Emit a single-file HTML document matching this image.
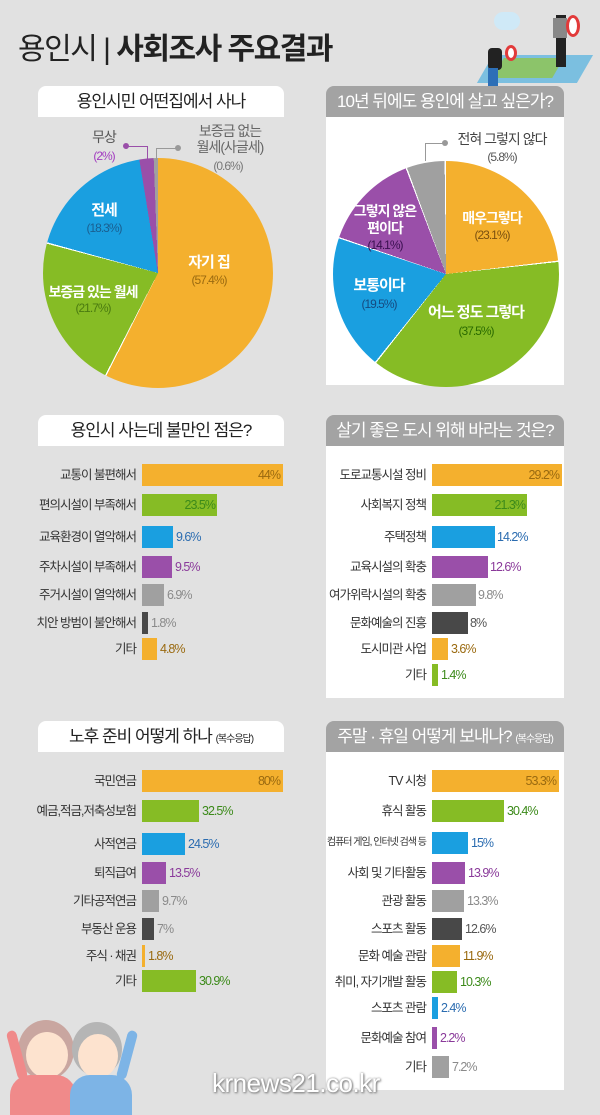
<!DOCTYPE html>
<html><head><meta charset="utf-8"><style>
*{margin:0;padding:0;box-sizing:border-box}
body{width:600px;height:1106px;background:#e1e1e1;position:relative;overflow:hidden;font-family:"Liberation Sans","Noto Sans CJK KR",sans-serif;color:#333}
div,span{position:absolute}
.hd{height:31px;font-size:17px;line-height:31px;text-align:center;letter-spacing:-1px;white-space:nowrap}
.hw{left:38px;width:246px;background:#fff;color:#222;border-radius:8px 8px 0 0}
.hg{left:326px;width:238px;background:#a3a3a3;color:#fff;border-radius:8px 8px 0 0}
.body{left:326px;width:238px;background:#fff}
.l{width:132px;text-align:right;font-size:12.5px;line-height:22px;letter-spacing:-1px;color:#333;white-space:nowrap}
.b{height:22px}
.p{font-size:12.5px;line-height:22px;letter-spacing:-1px;white-space:nowrap}
.o{background:#f4b02e}.g{background:#86bc25}.bl{background:#1a9fe0}.pu{background:#9a4fa9}.gr{background:#a0a0a0}.dk{background:#484848}
.to{color:#9a6a10}.tg{color:#3c8a1a}.tb{color:#2b6cb0}.tp{color:#8a3a9a}.tgr{color:#8a8a8a}.tdk{color:#555}
.pl{font-size:13px;text-align:center;white-space:nowrap;letter-spacing:-1px;line-height:16px}
.pw{color:#fff;font-weight:bold}
</style></head><body>

<div style="left:18px;top:24px;font-size:30px;letter-spacing:-1.5px;color:#222;white-space:nowrap">용인시<span style="position:static;font-weight:300"> | </span><b>사회조사 주요결과</b></div>

<!-- illustration top right -->
<div style="left:494px;top:12px;width:26px;height:18px;background:#cfe9f7;border-radius:10px"></div>
<div style="left:485px;top:55px;width:100px;height:28px;background:#7bbfe0;transform:skewX(-30deg)"></div>
<div style="left:498px;top:58px;width:60px;height:20px;background:#8cc46a;transform:skewX(-30deg)"></div>
<div style="left:488px;top:48px;width:14px;height:22px;background:#222;border-radius:4px"></div>
<div style="left:488px;top:68px;width:10px;height:18px;background:#2d6fb7"></div>
<div style="left:505px;top:45px;width:12px;height:16px;border:3px solid #e23a3a;border-radius:50%;background:#fff"></div>
<div style="left:556px;top:15px;width:10px;height:52px;background:#222"></div>
<div style="left:553px;top:18px;width:14px;height:20px;background:#888"></div>
<div style="left:566px;top:15px;width:14px;height:22px;border:3px solid #e23a3a;border-radius:50%;background:#fff"></div>

<!-- section 1 -->
<div class="hd hw" style="top:86px">용인시민 어떤집에서 사나</div>
<div class="hd hg" style="top:86px">10년 뒤에도 용인에 살고 싶은가?</div>
<div class="body" style="top:117px;height:268px"></div>

<div style="left:43px;top:158px;width:230px;height:230px;border-radius:50%;background:conic-gradient(#f4b02e 0 57.4%,#fff 57.4% 57.6%,#86bc25 57.6% 79.1%,#fff 79.1% 79.3%,#1a9fe0 79.3% 97.4%,#9a4fa9 97.4% 99.4%,#a0a0a0 99.4% 100%)"></div>
<div class="pl pw" style="left:169px;top:255px;width:80px;font-size:15px">자기 집</div>
<div class="pl to" style="left:169px;top:272px;width:80px;font-size:12px">(57.4%)</div>
<div class="pl pw" style="left:74px;top:203px;width:60px;font-size:15px">전세</div>
<div class="pl" style="left:74px;top:220px;width:60px;font-size:12px;color:#1a5f90">(18.3%)</div>
<div class="pl pw" style="left:43px;top:284px;width:100px;font-size:14px">보증금 있는 월세</div>
<div class="pl" style="left:43px;top:300px;width:100px;font-size:12px;color:#4a7a10">(21.7%)</div>
<div class="pl" style="left:84px;top:129px;width:40px;font-size:14px;color:#555">무상</div>
<div class="pl" style="left:84px;top:148px;width:40px;font-size:12px;color:#a23cc0">(2%)</div>
<div style="left:124px;top:146px;width:24px;height:1px;background:#9a4fa9"></div>
<div style="left:123px;top:143px;width:6px;height:6px;border-radius:50%;background:#9a4fa9"></div>
<div style="left:147px;top:146px;width:1px;height:14px;background:#9a4fa9"></div>
<div style="left:156px;top:148px;width:22px;height:1px;background:#999"></div>
<div style="left:156px;top:148px;width:1px;height:12px;background:#999"></div>
<div style="left:175px;top:145px;width:6px;height:6px;border-radius:50%;background:#999"></div>
<div class="pl" style="left:190px;top:123px;width:80px;font-size:14px;color:#666">보증금 없는</div>
<div class="pl" style="left:190px;top:139px;width:80px;font-size:14px;color:#666">월세(사글세)</div>
<div class="pl" style="left:198px;top:158px;width:60px;font-size:12px;color:#777">(0.6%)</div>

<div style="left:333px;top:161px;width:226px;height:226px;border-radius:50%;background:conic-gradient(#f4b02e 0 23.1%,#fff 23.1% 23.3%,#86bc25 23.3% 60.6%,#fff 60.6% 60.8%,#1a9fe0 60.8% 80.1%,#fff 80.1% 80.3%,#9a4fa9 80.3% 94.2%,#fff 94.2% 94.4%,#a0a0a0 94.4% 99.8%,#fff 99.8% 100%)"></div>
<div style="left:425px;top:143px;width:1px;height:18px;background:#999"></div>
<div style="left:425px;top:143px;width:19px;height:1px;background:#999"></div>
<div style="left:442px;top:140px;width:6px;height:6px;border-radius:50%;background:#999"></div>
<div class="pl" style="left:452px;top:131px;width:100px;font-size:14px;color:#444">전혀 그렇지 않다</div>
<div class="pl" style="left:472px;top:149px;width:60px;font-size:12px;color:#555">(5.8%)</div>
<div class="pl pw" style="left:452px;top:210px;width:80px;font-size:14px">매우그렇다</div>
<div class="pl" style="left:452px;top:227px;width:80px;font-size:12px;color:#7a5010">(23.1%)</div>
<div class="pl pw" style="left:345px;top:203px;width:80px;font-size:14px">그렇지 않은</div>
<div class="pl pw" style="left:345px;top:220px;width:80px;font-size:14px">편이다</div>
<div class="pl" style="left:345px;top:237px;width:80px;font-size:12px;color:#3a1050">(14.1%)</div>
<div class="pl pw" style="left:339px;top:278px;width:80px;font-size:15px">보통이다</div>
<div class="pl" style="left:339px;top:296px;width:80px;font-size:12px;color:#154a80">(19.5%)</div>
<div class="pl pw" style="left:421px;top:305px;width:110px;font-size:15px">어느 정도 그렇다</div>
<div class="pl" style="left:436px;top:323px;width:80px;font-size:12px;color:#2a6a00">(37.5%)</div>

<!-- section 2 -->
<div class="hd hw" style="top:415px">용인시 사는데 불만인 점은?</div>
<div class="hd hg" style="top:415px">살기 좋은 도시 위해 바라는 것은?</div>
<div class="body" style="top:446px;height:252px"></div>

<div class="l" style="left:4px;top:464px">교통이 불편해서</div><div class="b o" style="left:142px;top:464px;width:141px"></div><div class="p to" style="left:142px;top:464px;width:138px;text-align:right">44%</div>
<div class="l" style="left:4px;top:494px">편의시설이 부족해서</div><div class="b g" style="left:142px;top:494px;width:75px"></div><div class="p tg" style="left:142px;top:494px;width:73px;text-align:right">23.5%</div>
<div class="l" style="left:4px;top:526px">교육환경이 열악해서</div><div class="b bl" style="left:142px;top:526px;width:31px"></div><div class="p tb" style="left:176px;top:526px">9.6%</div>
<div class="l" style="left:4px;top:556px">주차시설이 부족해서</div><div class="b pu" style="left:142px;top:556px;width:30px"></div><div class="p tp" style="left:175px;top:556px">9.5%</div>
<div class="l" style="left:4px;top:584px">주거시설이 열악해서</div><div class="b gr" style="left:142px;top:584px;width:22px"></div><div class="p tgr" style="left:167px;top:584px">6.9%</div>
<div class="l" style="left:4px;top:612px">치안 방범이 불안해서</div><div class="b dk" style="left:142px;top:612px;width:6px"></div><div class="p tgr" style="left:151px;top:612px">1.8%</div>
<div class="l" style="left:4px;top:638px">기타</div><div class="b o" style="left:142px;top:638px;width:15px"></div><div class="p to" style="left:160px;top:638px">4.8%</div>

<div class="l" style="left:294px;top:464px">도로교통시설 정비</div><div class="b o" style="left:432px;top:464px;width:130px"></div><div class="p to" style="left:432px;top:464px;width:127px;text-align:right">29.2%</div>
<div class="l" style="left:294px;top:494px">사회복지 정책</div><div class="b g" style="left:432px;top:494px;width:95px"></div><div class="p tg" style="left:432px;top:494px;width:93px;text-align:right">21.3%</div>
<div class="l" style="left:294px;top:526px">주택정책</div><div class="b bl" style="left:432px;top:526px;width:63px"></div><div class="p tb" style="left:497px;top:526px">14.2%</div>
<div class="l" style="left:294px;top:556px">교육시설의 확충</div><div class="b pu" style="left:432px;top:556px;width:56px"></div><div class="p tp" style="left:490px;top:556px">12.6%</div>
<div class="l" style="left:294px;top:584px">여가위락시설의 확충</div><div class="b gr" style="left:432px;top:584px;width:44px"></div><div class="p tgr" style="left:478px;top:584px">9.8%</div>
<div class="l" style="left:294px;top:612px">문화예술의 진흥</div><div class="b dk" style="left:432px;top:612px;width:36px"></div><div class="p tdk" style="left:470px;top:612px">8%</div>
<div class="l" style="left:294px;top:638px">도시미관 사업</div><div class="b o" style="left:432px;top:638px;width:16px"></div><div class="p to" style="left:451px;top:638px">3.6%</div>
<div class="l" style="left:294px;top:664px">기타</div><div class="b g" style="left:432px;top:664px;width:6px"></div><div class="p tg" style="left:441px;top:664px">1.4%</div>

<!-- section 3 -->
<div class="hd hw" style="top:721px">노후 준비 어떻게 하나 <span style="position:static;font-size:10px">(복수응답)</span></div>
<div class="hd hg" style="top:721px">주말 · 휴일 어떻게 보내나? <span style="position:static;font-size:10px">(복수응답)</span></div>
<div class="body" style="top:752px;height:338px"></div>

<div class="l" style="left:4px;top:770px">국민연금</div><div class="b o" style="left:142px;top:770px;width:141px"></div><div class="p to" style="left:142px;top:770px;width:138px;text-align:right">80%</div>
<div class="l" style="left:4px;top:800px">예금,적금,저축성보험</div><div class="b g" style="left:142px;top:800px;width:57px"></div><div class="p tg" style="left:202px;top:800px">32.5%</div>
<div class="l" style="left:4px;top:833px">사적연금</div><div class="b bl" style="left:142px;top:833px;width:43px"></div><div class="p tb" style="left:188px;top:833px">24.5%</div>
<div class="l" style="left:4px;top:862px">퇴직급여</div><div class="b pu" style="left:142px;top:862px;width:24px"></div><div class="p tp" style="left:169px;top:862px">13.5%</div>
<div class="l" style="left:4px;top:890px">기타공적연금</div><div class="b gr" style="left:142px;top:890px;width:17px"></div><div class="p tgr" style="left:162px;top:890px">9.7%</div>
<div class="l" style="left:4px;top:918px">부동산 운용</div><div class="b dk" style="left:142px;top:918px;width:12px"></div><div class="p tgr" style="left:157px;top:918px">7%</div>
<div class="l" style="left:4px;top:945px">주식 · 채권</div><div class="b o" style="left:142px;top:945px;width:3px"></div><div class="p to" style="left:148px;top:945px">1.8%</div>
<div class="l" style="left:4px;top:970px">기타</div><div class="b g" style="left:142px;top:970px;width:54px"></div><div class="p tg" style="left:199px;top:970px">30.9%</div>

<div class="l" style="left:294px;top:770px">TV 시청</div><div class="b o" style="left:432px;top:770px;width:127px"></div><div class="p to" style="left:432px;top:770px;width:124px;text-align:right">53.3%</div>
<div class="l" style="left:294px;top:800px">휴식 활동</div><div class="b g" style="left:432px;top:800px;width:72px"></div><div class="p tg" style="left:507px;top:800px">30.4%</div>
<div class="l" style="left:294px;top:832px;font-size:10px">컴퓨터 게임, 인터넷 검색 등</div><div class="b bl" style="left:432px;top:832px;width:36px"></div><div class="p tb" style="left:471px;top:832px">15%</div>
<div class="l" style="left:294px;top:862px">사회 및 기타활동</div><div class="b pu" style="left:432px;top:862px;width:33px"></div><div class="p tp" style="left:468px;top:862px">13.9%</div>
<div class="l" style="left:294px;top:890px">관광 활동</div><div class="b gr" style="left:432px;top:890px;width:32px"></div><div class="p tgr" style="left:467px;top:890px">13.3%</div>
<div class="l" style="left:294px;top:918px">스포츠 활동</div><div class="b dk" style="left:432px;top:918px;width:30px"></div><div class="p tdk" style="left:465px;top:918px">12.6%</div>
<div class="l" style="left:294px;top:945px">문화 예술 관람</div><div class="b o" style="left:432px;top:945px;width:28px"></div><div class="p to" style="left:463px;top:945px">11.9%</div>
<div class="l" style="left:294px;top:971px">취미, 자기개발 활동</div><div class="b g" style="left:432px;top:971px;width:25px"></div><div class="p tg" style="left:460px;top:971px">10.3%</div>
<div class="l" style="left:294px;top:997px">스포츠 관람</div><div class="b bl" style="left:432px;top:997px;width:6px"></div><div class="p tb" style="left:441px;top:997px">2.4%</div>
<div class="l" style="left:294px;top:1027px">문화예술 참여</div><div class="b pu" style="left:432px;top:1027px;width:5px"></div><div class="p tp" style="left:440px;top:1027px">2.2%</div>
<div class="l" style="left:294px;top:1056px">기타</div><div class="b gr" style="left:432px;top:1056px;width:17px"></div><div class="p tgr" style="left:452px;top:1056px">7.2%</div>

<!-- elderly illustration -->
<div style="left:18px;top:1020px;width:56px;height:60px;border-radius:50%;background:#c9a6a0"></div>
<div style="left:26px;top:1032px;width:42px;height:46px;border-radius:50%;background:#fde3cf"></div>
<div style="left:10px;top:1075px;width:66px;height:40px;border-radius:20px 20px 0 0;background:#f08a8a"></div>
<div style="left:72px;top:1022px;width:50px;height:54px;border-radius:50%;background:#b5b5b5"></div>
<div style="left:78px;top:1034px;width:40px;height:44px;border-radius:50%;background:#fde3cf"></div>
<div style="left:70px;top:1075px;width:62px;height:40px;border-radius:20px 20px 0 0;background:#7db4e6"></div>
<div style="left:12px;top:1030px;width:10px;height:50px;background:#f08a8a;border-radius:5px;transform:rotate(-15deg)"></div>
<div style="left:122px;top:1030px;width:10px;height:50px;background:#7db4e6;border-radius:5px;transform:rotate(15deg)"></div>

<div style="left:212px;top:1068px;font-size:26px;color:#fff;letter-spacing:-0.5px;text-shadow:0 0 2px #888,1px 1px 2px #777;white-space:nowrap">krnews21.co.kr</div>
</body></html>
